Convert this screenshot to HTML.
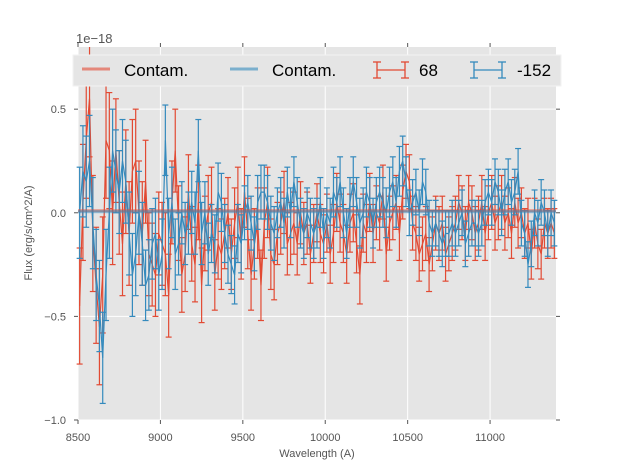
<!DOCTYPE html>
<html><head><meta charset="utf-8"><style>
body{margin:0;background:#fff;}
svg text{font-family:"Liberation Sans","DejaVu Sans",sans-serif;}
</style></head><body>
<svg id="chart" width="617" height="467" xmlns="http://www.w3.org/2000/svg">
<rect x="78" y="47" width="478" height="373" fill="#e5e5e5"/>
<g id="grid"></g>
<g id="ticks"></g>
<g id="series"></g>
<text x="76" y="43" font-size="13" fill="#555">1e−18</text>
<text transform="translate(32,233) rotate(-90)" text-anchor="middle" font-size="11" fill="#555">Flux (erg/s/cm^2/A)</text>
<text x="317" y="457" text-anchor="middle" font-size="11" fill="#555">Wavelength (A)</text>
<g>
<rect x="73" y="55" width="488" height="31" fill="#e5e5e5" stroke="#f2f2f2" stroke-width="1"/>
<g><line x1="82" y1="69" x2="110" y2="69" stroke="#e24a33" stroke-opacity="0.6" stroke-width="3"/><text x="124" y="76" font-size="17" fill="#000">Contam.</text></g>
<g><line x1="230" y1="69" x2="258" y2="69" stroke="#348abd" stroke-opacity="0.6" stroke-width="3"/><text x="272" y="76" font-size="17" fill="#000">Contam.</text></g>
<g stroke="#e24a33" stroke-width="1.3"><line x1="377" y1="70" x2="405" y2="70"/><line x1="377" y1="62" x2="377" y2="78"/><line x1="405" y1="62" x2="405" y2="78"/><line x1="373" y1="62" x2="381" y2="62"/><line x1="373" y1="78" x2="381" y2="78"/><line x1="401" y1="62" x2="409" y2="62"/><line x1="401" y1="78" x2="409" y2="78"/><text x="419" y="76" font-size="17" fill="#000" stroke="none">68</text></g>
<g stroke="#348abd" stroke-width="1.3"><line x1="474" y1="70" x2="502" y2="70"/><line x1="474" y1="62" x2="474" y2="78"/><line x1="502" y1="62" x2="502" y2="78"/><line x1="470" y1="62" x2="478" y2="62"/><line x1="470" y1="78" x2="478" y2="78"/><line x1="498" y1="62" x2="506" y2="62"/><line x1="498" y1="78" x2="506" y2="78"/><text x="517" y="76" font-size="17" fill="#000" stroke="none">-152</text></g>
</g>
</svg>
<script>
const xTicks=[8500,9000,9500,10000,10500,11000];
const yTicks=[0.5,0.0,-0.5,-1.0];
const yTickLabels=["0.5","0.0","−0.5","−1.0"];
const contamRed=0.01;
const contamBlue=0.005;
const red68=[-0.45,0.05,0.35,0.55,-0.1,-0.35,-0.55,-0.3,0.35,0.3,
0.0,0.3,0.05,-0.15,0.15,-0.1,0.2,0.25,0.0,-0.1,
0.15,-0.2,-0.25,-0.3,-0.1,-0.15,-0.2,-0.4,0.05,0.3,
-0.05,-0.3,-0.2,0.1,-0.15,-0.25,0.05,-0.35,-0.1,0.0,
0.05,-0.3,-0.15,-0.2,-0.1,0.0,-0.2,-0.05,0.05,-0.15,
0.1,-0.1,-0.3,-0.15,-0.05,-0.35,-0.05,0.05,-0.2,-0.25,
-0.1,-0.05,0.05,-0.15,-0.1,-0.05,-0.15,0.0,-0.1,-0.05,
-0.2,-0.1,0.0,-0.1,-0.15,-0.05,-0.2,-0.1,0.05,-0.05,
-0.1,-0.2,-0.05,0.0,-0.15,-0.3,-0.05,-0.1,0.05,-0.1,
0.0,-0.05,0.1,-0.2,-0.05,0.0,0.05,-0.1,0.1,0.2,
0.15,-0.05,-0.1,-0.2,-0.15,-0.1,-0.25,-0.15,-0.05,-0.1,
-0.05,-0.2,-0.15,-0.1,-0.05,0.05,0.0,-0.1,0.05,0.0,
-0.1,-0.05,0.05,-0.1,0.0,0.05,-0.05,0.0,0.05,-0.05,
0.0,-0.1,0.05,-0.05,0.0,-0.1,-0.05,-0.2,-0.05,-0.15,
-0.2,-0.05,-0.1,-0.05,-0.1];
const blue152=[0.0,0.2,0.15,0.25,-0.05,-0.3,-0.45,-0.7,-0.3,0.0,
0.3,0.2,0.1,0.25,0.15,-0.1,-0.3,-0.2,0.0,-0.15,
-0.35,-0.3,-0.15,-0.1,-0.3,-0.2,0.35,-0.1,0.05,-0.2,
-0.15,0.0,-0.1,-0.05,0.05,-0.05,0.3,-0.1,0.0,-0.2,
-0.1,-0.15,0.1,0.05,-0.1,-0.2,-0.25,-0.3,-0.1,-0.15,
0.0,0.05,-0.05,-0.15,0.05,0.1,0.1,0.05,-0.05,-0.1,
0.0,0.05,-0.05,0.1,0.0,0.15,0.05,-0.05,-0.1,0.0,
-0.05,-0.1,-0.05,0.05,-0.1,0.0,-0.05,0.1,0.05,0.15,
0.0,-0.1,0.05,0.15,0.05,-0.05,0.0,0.1,0.05,-0.05,
0.05,0.1,0.05,0.0,0.1,0.15,0.05,0.2,0.25,0.15,
0.0,0.05,0.1,0.0,0.15,0.1,-0.05,-0.1,-0.05,-0.1,
-0.15,-0.1,-0.1,-0.05,-0.1,-0.05,0.0,-0.15,-0.1,-0.05,
-0.05,-0.1,-0.05,0.05,0.1,0.05,0.15,0.1,0.0,0.1,
0.15,0.05,0.1,0.2,-0.05,-0.1,-0.25,-0.15,0.0,-0.05,
0.05,0.0,-0.1,0.0,-0.05];
const redErrChunks=[0.28,0.25,0.2,0.18,0.17,0.17,0.15,0.14,0.14,0.13,0.13,0.13,0.13,0.12,0.12];
const blueErrChunks=[0.22,0.2,0.17,0.15,0.14,0.13,0.12,0.12,0.12,0.12,0.11,0.11,0.11,0.11,0.11];
const wlStart=8510, wlStep=20;

const NS="http://www.w3.org/2000/svg";
const X0=78,X1=556,Y0=47,Y1=420,XMIN=8500,XMAX=11400,YMIN=-1.0,YMAX=0.8;
function sx(v){return X0+(v-XMIN)/(XMAX-XMIN)*(X1-X0);}
function sy(v){return Y1-(v-YMIN)/(YMAX-YMIN)*(Y1-Y0);}
function mk(tag,attrs,parent){const e=document.createElementNS(NS,tag);for(const k in attrs)e.setAttribute(k,attrs[k]);parent.appendChild(e);return e;}
const grid=document.getElementById('grid'),ticks=document.getElementById('ticks'),series=document.getElementById('series');
xTicks.forEach(t=>{const x=sx(t);
 const g=mk('line',{x1:x,y1:Y0,x2:x,y2:Y1,stroke:'#fff','stroke-width':1},grid);
 
 
 mk('line',{x1:x,y1:Y1,x2:x,y2:Y1+4,stroke:'#555'},ticks);
 mk('line',{x1:x,y1:Y0,x2:x,y2:Y0-4,stroke:'#555'},ticks);
 const l=mk('text',{x:x,y:441,'text-anchor':'middle','font-size':11,fill:'#555'},ticks);l.textContent=String(t);
 
 
});
yTicks.forEach((t,i)=>{const y=sy(t);
 const g=mk('line',{x1:X0,y1:y,x2:X1,y2:y,stroke:'#fff','stroke-width':1},grid);
 
 
 mk('line',{x1:X0-4,y1:y,x2:X0,y2:y,stroke:'#555'},ticks);
 mk('line',{x1:X1,y1:y,x2:X1+4,y2:y,stroke:'#555'},ticks);
 const l=mk('text',{x:X0-12,y:y+4,'text-anchor':'end','font-size':11,fill:'#555'},ticks);l.textContent=yTickLabels[i];
 
 
});
function drawErr(vals,errs,color,name){
 const g=mk('g',{stroke:color,'stroke-width':1.2,fill:'none'},series);
 
 
 let d='';
 vals.forEach((v,i)=>{const w=wlStart+i*wlStep,x=sx(w),e=errs[Math.floor(i/10)];
  const top=Math.max(Y0,sy(v+e)),bot=Math.min(Y1,sy(v-e));
  mk('line',{x1:x,y1:top,x2:x,y2:bot},g);
  if(sy(v+e)>=Y0)mk('line',{x1:x-3,y1:top,x2:x+3,y2:top},g);
  if(sy(v-e)<=Y1)mk('line',{x1:x-3,y1:bot,x2:x+3,y2:bot},g);
  d+=(i?'L':'M')+x.toFixed(1)+' '+sy(v).toFixed(1);
 });
 mk('path',{d:d},g);
}
drawErr(red68,redErrChunks,'#e24a33','series-68');
drawErr(blue152,blueErrChunks,'#348abd','series-minus-152');
const c1=mk('line',{x1:X0,y1:sy(contamRed),x2:X1,y2:sy(contamRed),stroke:'#e24a33','stroke-opacity':0.55,'stroke-width':3},series);


const c2=mk('line',{x1:X0,y1:sy(contamBlue),x2:X1,y2:sy(contamBlue),stroke:'#348abd','stroke-opacity':0.55,'stroke-width':3},series);


</script>
</body></html>
